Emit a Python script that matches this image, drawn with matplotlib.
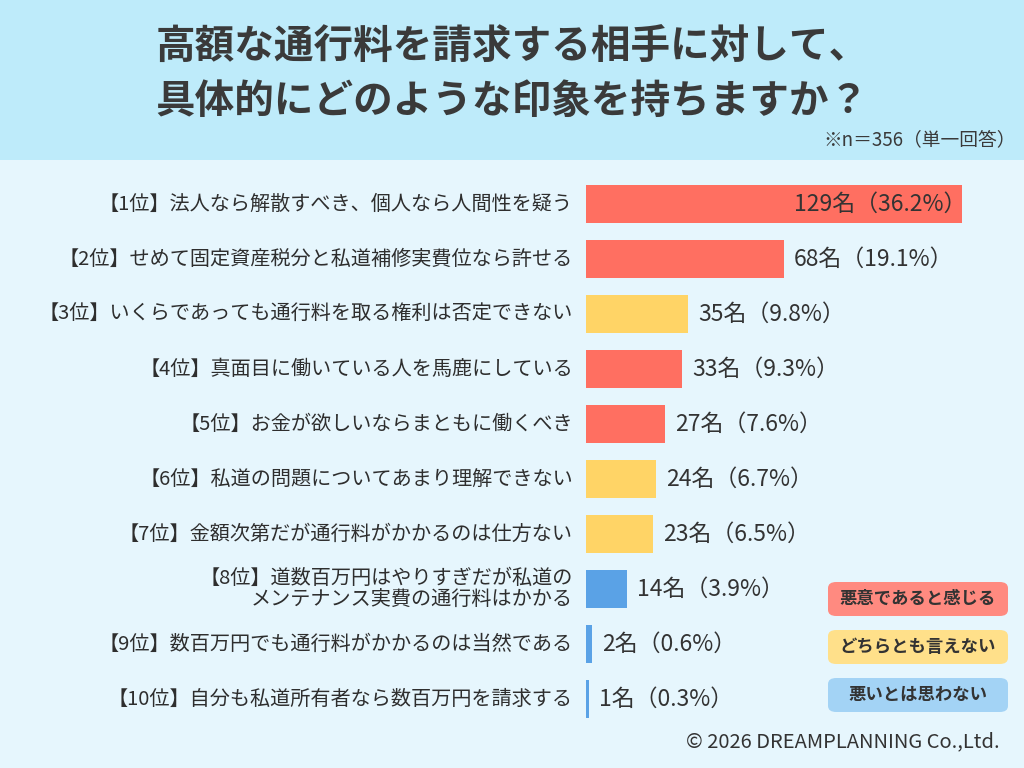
import matplotlib
matplotlib.use("Agg")
import matplotlib.pyplot as plt
from matplotlib.patches import Rectangle, FancyBboxPatch

plt.rcParams['font.family'] = ['Noto Sans CJK JP', 'DejaVu Sans']

labels = [
    "【1位】法人なら解散すべき、個人なら人間性を疑う",
    "【2位】せめて固定資産税分と私道補修実費位なら許せる",
    "【3位】いくらであっても通行料を取る権利は否定できない",
    "【4位】真面目に働いている人を馬鹿にしている",
    "【5位】お金が欲しいならまともに働くべき",
    "【6位】私道の問題についてあまり理解できない",
    "【7位】金額次第だが通行料がかかるのは仕方ない",
    "【8位】道数百万円はやりすぎだが私道の\nメンテナンス実費の通行料はかかる",
    "【9位】数百万円でも通行料がかかるのは当然である",
    "【10位】自分も私道所有者なら数百万円を請求する",
]
counts = [129, 68, 35, 33, 27, 24, 23, 14, 2, 1]
pcts = [36.2, 19.1, 9.8, 9.3, 7.6, 6.7, 6.5, 3.9, 0.6, 0.3]
groups = ["bad", "bad", "neutral", "bad", "bad", "neutral", "neutral", "ok", "ok", "ok"]

bar_colors = {"bad": "#FF6F61", "neutral": "#FFD466", "ok": "#5AA2E6"}
legend_items = [("悪意であると感じる", "#FF8A80"),
                ("どちらとも言えない", "#FFE08A"),
                ("悪いとは思わない", "#A3D3F5")]

W, H = 1024, 768
fig = plt.figure(figsize=(W / 100, H / 100), dpi=100)
fig.patch.set_facecolor("#E6F6FD")

# header band
fig.patches.append(Rectangle((0, 1 - 160 / H), 1, 160 / H, transform=fig.transFigure,
                             facecolor="#BEEBFA", edgecolor="none", zorder=0))
fig.text(0.5, 1 - 47 / H, "高額な通行料を請求する相手に対して、", ha="center", va="center",
         fontsize=28.5, fontweight="bold", color="#3A3A3A")
fig.text(0.5, 1 - 101 / H, "具体的にどのような印象を持ちますか？", ha="center", va="center",
         fontsize=28.5, fontweight="bold", color="#3A3A3A")
fig.text(1016 / W, 1 - 140 / H, "※n＝356（単一回答）", ha="right", va="center",
         fontsize=13.5, color="#3A3A3A")

# bar area
left, right = 586, 1024
top, bottom = 176.5, 726.5
ax = fig.add_axes([left / W, 1 - bottom / H, (right - left) / W, (bottom - top) / H])
ax.set_facecolor("none")
xmax = (right - left) / 376 * counts[0]
ax.set_xlim(0, xmax)
ax.set_ylim(len(counts) - 0.5, -0.5)
ax.axis("off")

ys = list(range(len(counts)))
ax.barh(ys, counts, height=0.69, color=[bar_colors[g] for g in groups])

for i, (lab, c, p) in enumerate(zip(labels, counts, pcts)):
    ax.annotate(lab, xy=(0, i), xytext=(-13, 0), textcoords="offset pixels",
                ha="right", va="center", fontsize=14.5, color="#2E2E2E",
                linespacing=1.0, annotation_clip=False)
    txt = f"{c}名（{p}%）"
    if i == 0:
        ax.annotate(txt, xy=(c, i), xytext=(4, 0), textcoords="offset pixels",
                    ha="right", va="center", fontsize=16.5, color="#333333")
    else:
        ax.annotate(txt, xy=(c, i), xytext=(10, 0), textcoords="offset pixels",
                    ha="left", va="center", fontsize=16.5, color="#333333",
                    annotation_clip=False)

# legend boxes
for k, (name, col) in enumerate(legend_items):
    cy = 599 + 48 * k
    bx, bw, bh = 828, 180, 34
    fig.patches.append(FancyBboxPatch((bx / W, 1 - (cy + bh / 2) / H), bw / W, bh / H,
                                      boxstyle="round,pad=0,rounding_size=0.008",
                                      transform=fig.transFigure, facecolor=col,
                                      edgecolor="none", zorder=1))
    fig.text((bx + bw / 2) / W, 1 - cy / H, name, ha="center", va="center",
             fontsize=12.5, fontweight="bold", color="#333333", zorder=2)

fig.text(1000 / W, 1 - 742 / H, "© 2026 DREAMPLANNING Co.,Ltd.", ha="right", va="center",
         fontsize=14.5, color="#333333")

fig.savefig("out.png", dpi=100, facecolor=fig.get_facecolor())
